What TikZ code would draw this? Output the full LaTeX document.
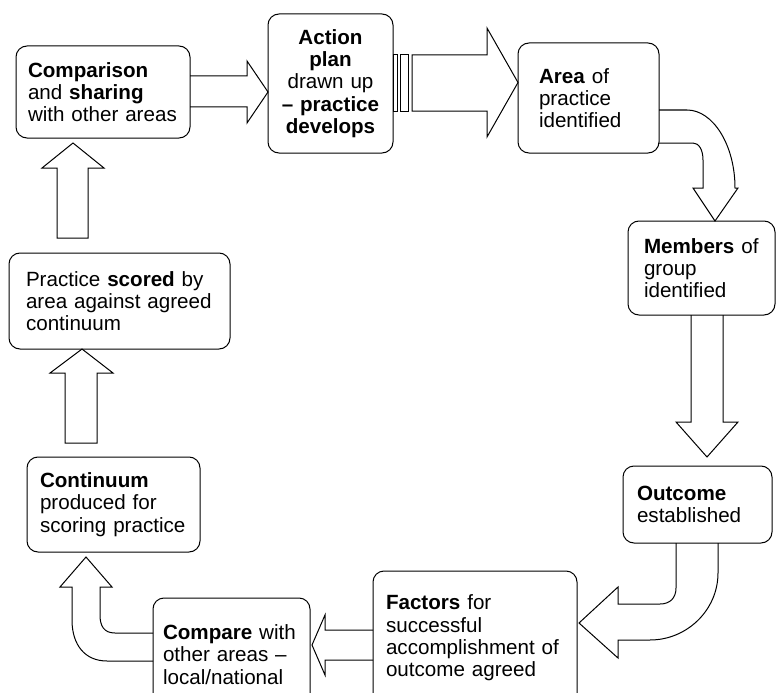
\documentclass[tikz,border=0pt]{standalone}
\usepackage{fontspec}
\setmainfont{Liberation Sans}
\usetikzlibrary{calc}
\begin{document}
\begin{tikzpicture}[x=1pt,y=-1pt,
  line width=1pt, line join=miter,
  stage/.style={draw, rounded corners=11pt, outer sep=0pt, inner ysep=0pt,
    align=left, font=\fontsize{20.6pt}{22.3pt}\selectfont},
  blockarrow/.style={draw, line join=miter}
]
\useasboundingbox (0,0) rectangle (777,693);
\clip (0,0) rectangle (777,693);

% stages of the cycle
\node[stage, text width=150pt, inner xsep=12pt, minimum height=92pt] (cmp) at (103,92)
  {\textbf{Comparison}\\and \textbf{sharing}\\with other areas};
\node[stage, align=center, text width=109pt, inner xsep=8pt, minimum height=139pt] (act) at (330.5,83.5)
  {\textbf{Action}\\\textbf{plan}\\drawn up\\\textbf{\textendash{} practice}\\\textbf{develops}};
\node[stage, text width=99pt, inner xsep=21pt, minimum height=110pt] (area) at (588.5,98)
  {\textbf{Area} of\\practice\\identified};
\node[stage, text width=115pt, inner xsep=16pt, minimum height=94pt] (mem) at (701.5,268)
  {\textbf{Members} of\\group\\identified};
\node[stage, text width=121pt, inner xsep=14pt, minimum height=77pt] (out) at (697.5,504.5)
  {\textbf{Outcome}\\established};
\node[stage, text width=178pt, inner xsep=13pt, minimum height=134pt] (fac) at (475,638)
  {\textbf{Factors} for\\successful\\accomplishment of\\outcome agreed};
\node[stage, text width=137pt, inner xsep=10pt, minimum height=113pt] (cmpr) at (231.5,654.5)
  {\textbf{Compare} with\\other areas \textendash\\local/national};
\node[stage, text width=147pt, inner xsep=13pt, minimum height=95pt] (cont) at (113.5,504.5)
  {\textbf{Continuum}\\produced for\\scoring practice};
\node[stage, text width=187pt, inner xsep=17pt, minimum height=96pt] (prac) at (119.5,301)
  {Practice \textbf{scored} by\\area against agreed\\continuum};

% comparison -> action plan
\draw[blockarrow] (cmp.east |- 0,76) -- (247,76) -- (247,61) -- (act.west |- 0,92)
  -- (247,123) -- (247,107) -- (cmp.east |- 0,107);

% action plan -> area, with its two bars
\draw[blockarrow] (act.east |- 0,55) rectangle (397,111);
\draw[blockarrow] (400,55) rectangle (408,111);
\draw[blockarrow] (412,55) -- (487,55) -- (487,28) -- (area.west |- 0,82.5)
  -- (487,137) -- (487,111) -- (412,111) -- cycle;

% area -> members (bent)
\draw[blockarrow] (area.east |- 0,110) -- (687,110)
  .. controls (713,110) and (735,145) .. (735,188) -- (738,188)
  -- (715,0 |- mem.north) -- (693,188) -- (703,188) -- (703,160)
  .. controls (703,150) and (699,143) .. (693,143) -- (area.east |- 0,143);

% members -> outcome
\draw[blockarrow] (691,0 |- mem.south) -- (691,422) -- (676,422)
  -- ($(707,0 |- out.north)+(0,-9)$) -- (738,422) -- (723,422) -- (723,0 |- mem.south);

% outcome -> factors (bent)
\draw[blockarrow] (718,0 |- out.south) -- (718,573)
  .. controls (718,610) and (687,640) .. (650,640) -- (618,640) -- (618,658)
  -- ($(fac.east |- 0,623)+(2,0)$) -- (618,587) -- (618,604) -- (660,604)
  .. controls (670,604) and (676,598) .. (676,588) -- (676,0 |- out.south);

% factors -> compare
\draw[blockarrow] (fac.west |- 0,630) -- (325,630) -- (325,615) -- ($(cmpr.east |- 0,645)+(2,0)$)
  -- (325,675) -- (325,660) -- (fac.west |- 0,660);

% compare -> continuum (bent)
\draw[blockarrow] (cmpr.west |- 0,661) -- (107,661)
  .. controls (85,661) and (72,645) .. (72,620) -- (72,587) -- (60,587)
  -- ($(86,0 |- cont.south)+(0,5)$) -- (112,587) -- (100,587) -- (100,615)
  .. controls (100,626) and (104,633) .. (115,633) -- (cmpr.west |- 0,633);

% continuum -> practice scored
\draw[blockarrow] ($(65,0 |- cont.north)+(0,-14)$) -- (65,373) -- (50,373)
  -- (82,0 |- prac.south) -- (113,373) -- (97,373) -- ($(97,0 |- cont.north)+(0,-14)$) -- cycle;

% practice scored -> comparison
\draw[blockarrow] ($(57,0 |- prac.north)+(0,-15)$) -- (57,168) -- (42,168)
  -- ($(73,0 |- cmp.south)+(0,5)$) -- (104,168) -- (88,168) -- ($(88,0 |- prac.north)+(0,-15)$) -- cycle;
\end{tikzpicture}
\end{document}
